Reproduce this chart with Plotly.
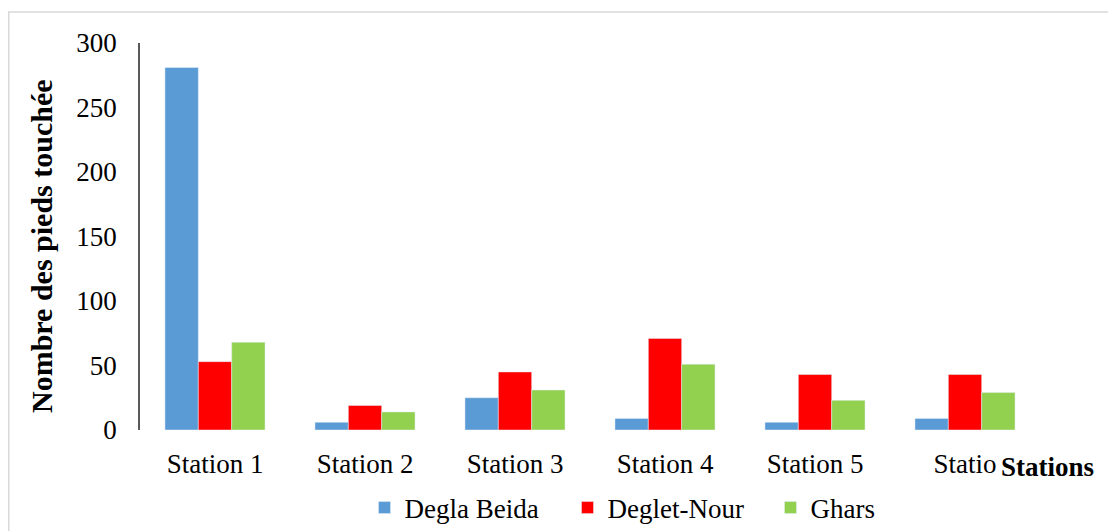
import plotly.graph_objects as go

categories = ["Station 1", "Station 2", "Station 3", "Station 4", "Station 5", "Statio"]
degla_beida = [281, 6, 25, 9, 6, 9]
deglet_nour = [53, 19, 45, 71, 43, 43]
ghars = [68, 14, 31, 51, 23, 29]
y_ticks = [0, 50, 100, 150, 200, 250, 300]

# page body has an 8px margin, so the figure is drawn 8px in from the window corner
OFF = 8
W, H = 1116 - OFF, 531 - OFF
L, T = 140 - OFF, 43 - OFF
ph = (430 - OFF) - T
pw = 900
R = W - L - pw
B = H - T - ph

def px_x(p):
    return (p - OFF - L) / pw

def px_y(p):
    return (T + ph - (p - OFF)) / ph

FONT = "Liberation Serif"
FS = 27

fig = go.Figure()
fig.add_trace(go.Bar(name="Degla Beida", x=categories, y=degla_beida, marker_color="#5B9BD5"))
fig.add_trace(go.Bar(name="Deglet-Nour", x=categories, y=deglet_nour, marker_color="#FF0000"))
fig.add_trace(go.Bar(name="Ghars", x=categories, y=ghars, marker_color="#92D050"))

fig.update_layout(
    width=W, height=H,
    margin=dict(l=L, r=R, t=T, b=B, autoexpand=False),
    paper_bgcolor="white", plot_bgcolor="white",
    barmode="group", bargap=0.333, bargroupgap=0,
    font=dict(family=FONT, size=FS, color="#000000"),
    showlegend=True,
    legend=dict(orientation="h", x=px_x(669), xanchor="center", y=px_y(508), yanchor="middle",
                font=dict(family=FONT, size=FS, color="#000000"),
                entrywidth=158, entrywidthmode="pixels",
                traceorder="normal"),
    xaxis=dict(showgrid=False, showline=False, ticks="", zeroline=False,
               tickfont=dict(family=FONT, size=FS, color="#000000"), ticklabelstandoff=15),
    yaxis=dict(range=[0, 300], tickvals=y_ticks, showgrid=False, zeroline=False,
               showline=True, linecolor="#595959", linewidth=1.5, ticks="",
               tickfont=dict(family=FONT, size=FS, color="#000000"), ticklabelstandoff=16),
    shapes=[dict(type="rect", xref="paper", yref="paper",
                 x0=px_x(8.75), x1=px_x(1140), y0=px_y(560), y1=px_y(12),
                 line=dict(color="#D9D9D9", width=1.5), fillcolor="rgba(0,0,0,0)", layer="below")],
    annotations=[
        dict(text="<b>Stations</b>", xref="paper", yref="paper", x=px_x(1047), y=px_y(467),
             xanchor="center", yanchor="middle", showarrow=False,
             font=dict(family=FONT, size=FS, color="#000000")),
        dict(text="<b>Nombre des pieds touchée</b>", xref="paper", yref="paper", x=px_x(41), y=px_y(246),
             xanchor="center", yanchor="middle", showarrow=False, textangle=-90,
             font=dict(family=FONT, size=30, color="#000000")),
    ],
)

fig.write_html("out.html")
